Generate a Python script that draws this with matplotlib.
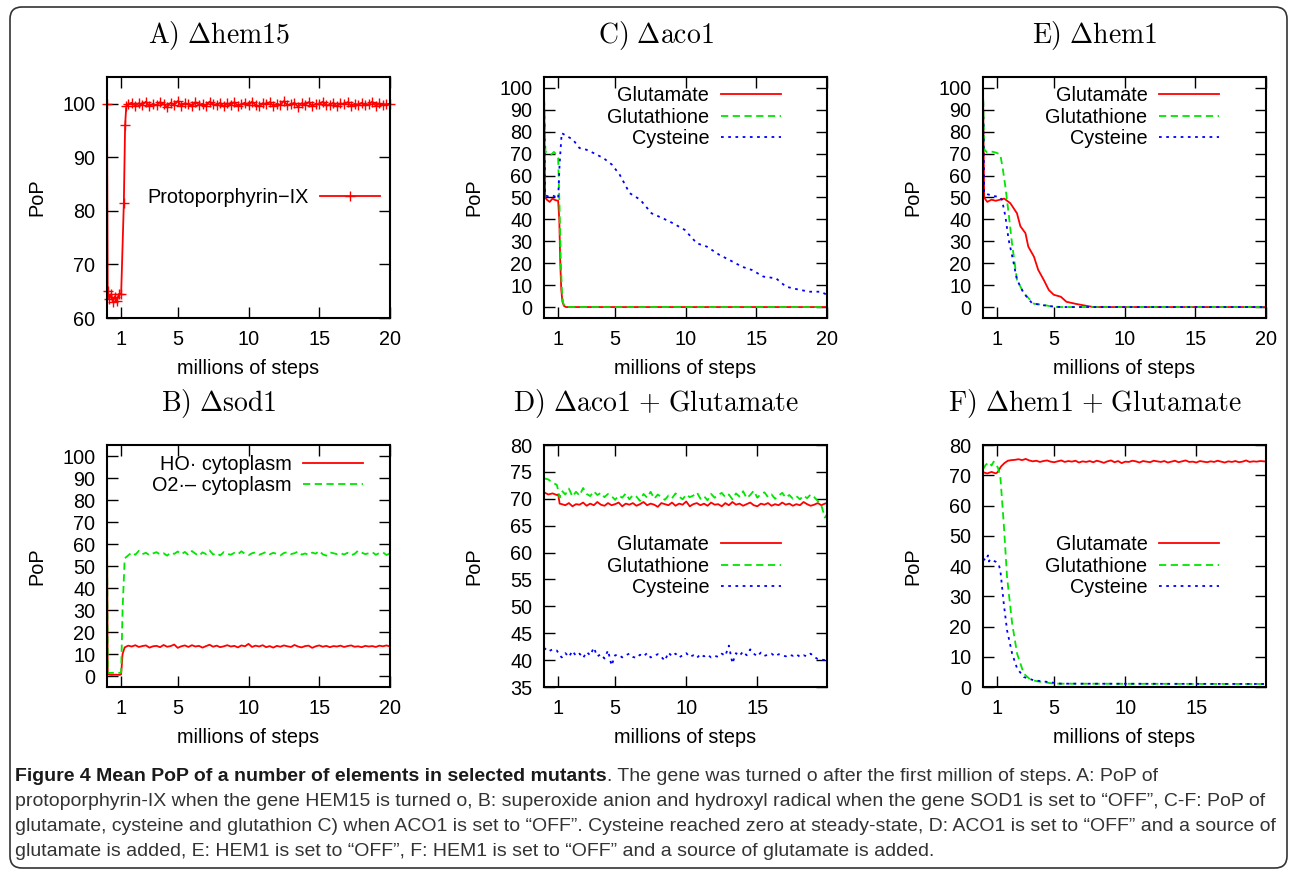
import numpy as np
import matplotlib.pyplot as plt
from matplotlib.patches import FancyBboxPatch
from matplotlib.transforms import IdentityTransform

plt.rcParams['font.family'] = ['Liberation Sans', 'DejaVu Sans']
plt.rcParams['mathtext.fontset'] = 'cm'

# steady-state sampling (millions of steps), shared by the noisy series
tail_x = np.arange(1.5, 20.001, 0.25)

# A) hem15 - Protoporphyrin-IX
a_head_x = [0, 0.05, 0.15, 0.3, 0.4, 0.55, 0.7, 0.85, 1.0, 1.19, 1.28, 1.36]
a_head_y = [100, 65, 63.5, 64.5, 63, 64, 63.2, 64.5, 64.5, 81.5, 96, 99.5]
a_tail = [99.9, 100.2, 99.6, 100.1, 99.8, 100.4, 99.5, 100.0, 99.7, 100.3, 99.9, 99.4, 100.2, 99.8, 100.5,
          99.6, 100.1, 99.9, 99.5, 100.3, 99.8, 100.0, 99.6, 100.4, 99.9, 99.7, 100.2, 99.5, 100.1, 99.8,
          100.3, 99.6, 99.9, 100.2, 99.7, 100.4, 99.8, 99.5, 100.1, 99.9, 100.3, 99.6, 100.0, 99.8, 100.5,
          99.7, 99.9, 100.2, 99.4, 100.1, 99.8, 100.3, 99.6, 100.0, 99.9, 100.4, 99.7, 99.8, 100.2, 99.5,
          100.1, 99.9, 100.3, 99.6, 100.0, 99.8, 100.2, 99.7, 99.9, 100.4, 99.6, 100.1, 99.8, 99.9, 100.0]

# B) sod1
b_head_x = [0, 0.05, 0.3, 0.6, 0.9, 1.0, 1.1, 1.25]
b_ho_head = [68, 0.8, 0.5, 0.6, 0.5, 0.8, 10, 13]
b_ho_tail = [13.8, 13.4, 14.0, 13.2, 13.6, 13.9, 12.9, 13.5, 13.7, 13.1, 14.1, 13.3, 13.6, 14.3, 12.8,
             13.5, 13.9, 13.2, 14.0, 13.4, 13.7, 12.9, 13.6, 14.2, 13.3, 13.8, 13.1, 13.5, 14.0, 13.4,
             13.7, 13.0, 13.9, 13.5, 14.6, 13.2, 13.8, 13.4, 14.0, 13.1, 13.6, 12.9, 13.7, 13.3, 13.9,
             13.5, 13.2, 14.1, 13.4, 13.0, 13.6, 13.8, 12.8, 13.5, 13.9, 13.3, 13.7, 13.1, 13.6, 13.4,
             13.8, 13.2, 13.6, 13.9, 13.3, 13.5, 13.1, 13.7, 13.4, 13.6, 13.2, 13.8, 13.5, 13.9, 13.4]
b_o2_head = [66, 1.5, 1.4, 1.5, 1.4, 1.6, 30, 53.5]
b_o2_tail = [54.8, 56.2, 55.1, 56.9, 55.4, 56.0, 54.9, 55.7, 56.3, 55.2, 55.8, 54.7, 56.1, 55.5, 56.6,
             55.3, 56.4, 55.0, 56.8, 55.6, 54.6, 56.2, 55.4, 57.1, 55.2, 55.9, 54.8, 56.3, 55.6, 55.1,
             56.0, 55.3, 56.7, 55.5, 54.9, 55.8, 56.2, 55.1, 55.7, 56.4, 55.3, 56.0, 55.5, 54.8, 55.9,
             56.3, 55.4, 55.8, 56.6, 55.2, 55.7, 55.0, 56.1, 55.6, 56.9, 55.3, 54.7, 56.2, 55.8, 55.4,
             55.9, 55.2, 56.0, 54.9, 55.5, 57.0, 56.1, 55.4, 55.8, 56.3, 55.1, 55.9, 56.2, 55.0, 55.7]

# C) aco1
c_glu_x = [0, 0.08, 0.2, 0.4, 0.6, 0.8, 1.0, 1.08, 1.15, 1.22, 1.3, 1.4, 1.55, 20]
c_glu_y = [100, 50, 49, 48, 49.5, 48.8, 48.5, 40, 20, 8, 2.5, 0.6, 0, 0]
c_gsh_x = [0, 0.05, 0.1, 0.3, 0.5, 0.7, 0.9, 1.0, 1.1, 1.18, 1.26, 1.35, 1.45, 1.6, 20]
c_gsh_y = [95, 85, 71, 70, 69.5, 70.8, 69.5, 68, 45, 22, 8, 2, 0.5, 0, 0]
c_cys_x = [0, 0.08, 0.3, 0.6, 0.9, 1.0, 1.1, 1.25, 2.05, 2.5, 3.0, 3.5, 4.2, 4.8, 5.35, 6.05, 6.8,
           7.6, 8.4, 9.1, 9.95, 10.8, 11.5, 12.4, 13.1, 14.0, 14.7, 15.5, 16.4, 17.1, 18.1, 18.8, 19.6, 20]
c_cys_y = [100, 51, 50.5, 51, 50, 49.5, 65, 79.4, 76.4, 72.6, 71.8, 70.3, 68, 65, 60.4, 52, 49,
           42.8, 40.5, 38.3, 35.2, 29.1, 27.6, 23.8, 21.5, 18.4, 16.9, 13.9, 13.1, 9.3, 7.8, 7.0, 7.0, 5.5]

# D) aco1 + Glutamate
d_head_x = [0, 0.3, 0.6, 0.9, 1.0, 1.1, 1.25]
d_glu_head = [71.2, 70.8, 71.0, 70.7, 70.8, 69.1, 69.0]
d_glu_tail = [68.8, 69.2, 68.6, 69.0, 68.9, 69.3, 68.7, 69.1, 68.8, 69.4, 68.9, 68.7, 69.2, 68.8, 69.0,
              69.3, 68.6, 69.1, 68.9, 69.2, 68.7, 69.0, 69.4, 68.8, 69.1, 68.9, 68.5, 69.2, 69.0, 68.8,
              69.3, 68.7, 69.1, 68.9, 69.5, 68.6, 69.0, 69.2, 68.8, 69.1, 68.7, 69.3, 68.9, 69.0, 68.6,
              69.2, 68.8, 69.4, 68.9, 69.1, 68.7, 69.0, 69.3, 68.8, 68.6, 69.1, 68.9, 69.2, 68.7, 69.0,
              68.8, 69.3, 68.9, 69.1, 68.7, 69.0, 68.8, 69.4, 69.0, 68.7, 68.9, 69.2, 68.8, 69.1, 69.3]
d_gsh_head = [73.8, 73.6, 73.0, 72.6, 71.5, 70.2, 71.5]
d_gsh_tail = [70.8, 71.9, 70.4, 71.3, 70.6, 72.0, 70.9, 70.5, 71.4, 70.7, 71.1, 70.3, 70.9, 70.5, 69.8,
              70.6, 70.2, 71.0, 69.9, 70.7, 70.4, 69.6, 70.9, 70.2, 71.3, 70.0, 70.8, 70.3, 69.8, 70.6,
              70.1, 71.0, 70.4, 69.9, 70.8, 70.3, 70.6, 71.2, 70.0, 70.5, 69.7, 70.9, 70.2, 70.7, 71.1,
              70.3, 70.8, 69.9, 71.0, 70.4, 71.4, 70.1, 70.7, 71.5, 70.2, 70.9, 71.2, 70.3, 70.8, 70.0,
              70.6, 71.1, 70.2, 70.7, 70.0, 70.5, 69.9, 70.6, 70.1, 70.8, 70.3, 69.6, 68.8, 66.5, 67.5]
d_cys_head_x = [0, 0.3, 0.6, 0.9, 1.1, 1.25]
d_cys_head = [42.3, 41.6, 42.0, 41.8, 40.9, 40.5]
d_cys_tail = [41.3, 40.6, 41.7, 40.8, 41.2, 40.4, 41.5, 40.9, 42.3, 40.7, 41.1, 40.3, 41.8, 39.0, 40.9,
              41.0, 40.5, 40.9, 41.2, 40.6, 40.4, 41.0, 40.7, 41.3, 40.5, 40.8, 41.1, 40.6, 39.9, 41.4,
              40.7, 41.2, 40.5, 40.9, 41.3, 40.6, 40.9, 40.4, 41.1, 40.7, 41.0, 40.5, 40.8, 40.6, 41.2,
              40.8, 42.7, 39.4, 41.3, 40.8, 41.6, 40.9, 42.0, 41.2, 40.7, 41.4, 40.8, 41.0, 41.2, 40.7,
              41.1, 40.9, 40.7, 41.0, 40.8, 41.1, 40.6, 40.9, 40.7, 41.2, 40.6, 40.2, 40.1, 40.0, 40.0]

# E) hem1
e_glu_x = [0, 0.08, 0.3, 0.6, 0.9, 1.2, 1.5, 1.93, 2.4, 2.64, 3.0, 3.2, 3.6, 3.9, 4.3, 4.65, 5.0, 5.5,
           5.9, 6.6, 7.35, 7.8, 20]
e_glu_y = [100, 50, 48, 49, 48.5, 49, 49.5, 47.4, 42.8, 36.9, 33.7, 27.6, 23, 17, 12.3, 7.8, 5.6, 4.7,
           2.4, 1.4, 0.5, 0, 0]
e_gsh_x = [0, 0.08, 0.3, 0.6, 0.9, 1.22, 1.4, 1.58, 1.81, 2.05, 2.4, 2.87, 3.35, 3.6, 4.3, 5.0, 20]
e_gsh_y = [100, 72, 70.5, 71, 70.5, 69.7, 63, 55, 42.8, 29, 12.5, 6.4, 3.2, 1.5, 1.0, 0, 0]
e_cys_x = [0, 0.08, 0.3, 0.6, 0.9, 1.1, 1.34, 1.58, 1.81, 2.12, 2.4, 2.87, 3.46, 4.05, 4.9, 5.5, 20]
e_cys_y = [100, 52, 51.5, 51, 50.5, 50.5, 49, 41.5, 30.8, 21.5, 12.5, 6.4, 1.8, 1.0, 0.3, 0, 0]

# F) hem1 + Glutamate
f_glu_head_x = [0, 0.3, 0.6, 0.9, 1.0, 1.1, 1.25]
f_glu_head = [71, 70.6, 71.1, 70.6, 70.9, 71.5, 72.8]
f_glu_tail = [74.0, 74.8, 75.0, 75.1, 75.3, 75.0, 75.4, 74.9, 74.6, 74.8, 74.4, 74.7, 74.9, 74.5, 74.3,
              74.6, 74.9, 74.4, 74.7, 74.5, 74.8, 74.2, 74.6, 74.4, 74.7, 74.3, 74.8, 74.5, 74.1, 74.6,
              74.9, 74.3, 74.7, 74.0, 74.5, 74.4, 74.8, 74.6, 74.2, 74.7, 74.5, 74.3, 74.8, 74.6, 74.4,
              74.7, 74.2, 74.5, 74.8, 74.3, 74.6, 74.9, 74.4, 74.5, 74.2, 74.7, 74.5, 74.3, 74.6, 74.4,
              74.8, 74.5, 74.2, 74.6, 74.4, 74.7, 74.3, 74.5, 74.9, 74.4, 74.6, 74.5, 74.7, 74.6, 74.5]
f_gsh_x = [0, 0.2, 0.45, 0.6, 0.75, 0.9, 1.05, 1.22, 1.46, 1.69, 2.05, 2.4, 2.87, 3.34, 3.8, 5.0, 20]
f_gsh_y = [72, 73.5, 74.3, 73.2, 74.5, 73.6, 72.5, 69.5, 54, 36.4, 21, 11, 4.4, 2.4, 1.9, 1.1, 1.0]
f_cys_x = [0, 0.2, 0.35, 0.42, 0.5, 0.7, 0.9, 1.1, 1.22, 1.46, 1.69, 2.05, 2.4, 2.87, 3.58, 4.5, 5.46, 20]
f_cys_y = [42.5, 41.8, 43.5, 41.5, 42.2, 41.8, 41.4, 40.5, 38.6, 27.6, 18.8, 11, 6.1, 3.3, 2.2, 1.7, 1.1, 1.0]

titles = [r'$\mathrm{A)\ \Delta hem15}$', r'$\mathrm{B)\ \Delta sod1}$',
          r'$\mathrm{C)\ \Delta aco1}$', r'$\mathrm{D)\ \Delta aco1\ {+}\ Glutamate}$',
          r'$\mathrm{E)\ \Delta hem1}$', r'$\mathrm{F)\ \Delta hem1\ {+}\ Glutamate}$']

W, H = 1290, 871
RED, GREEN, BLUE = '#ff0000', '#00e600', '#0000ff'
DASH = (0, (4, 2.5))
DOT = (0, (1.5, 2.5))
FS = 14.3

fig = plt.figure(figsize=(W / 100, H / 100), dpi=100)


def panel(left, top, h, title):
    ax = fig.add_axes([left / W, 1 - (top + h) / H, 283 / W, h / H])
    fig.text((left + 141 - 29) / W, 1 - (top - 42) / H, title, fontsize=20, ha='center', va='center')
    return ax


def style(ax, ylim, yticks, xticks, xmax=20):
    ax.set_xlim(0, xmax)
    ax.set_ylim(*ylim)
    ax.set_xticks(xticks)
    ax.set_yticks(yticks)
    ax.tick_params(direction='in', length=8, width=1, top=True, right=True, labelsize=FS, pad=8.5)
    for s in ax.spines.values():
        s.set_linewidth(1.5)
    ax.set_xlabel('millions of steps', fontsize=FS)
    ax.xaxis.set_label_coords(0.5, -0.17)
    ax.set_ylabel('PoP', fontsize=FS)
    ax.yaxis.set_label_coords(-0.215, 0.5)


def legend(ax, x, y):
    ax.legend(loc='center right', bbox_to_anchor=(x, y), frameon=False, markerfirst=False, fontsize=FS,
              handlelength=3, handletextpad=0.6, labelspacing=0.12, borderpad=0, borderaxespad=0)


lw = 1.3
xt = [1, 5, 10, 15, 20]

# A
ax = panel(107, 77, 241, titles[0])
ax.plot(a_head_x + list(tail_x), a_head_y + a_tail, color=RED, lw=lw, marker='+', ms=7, mew=1,
        clip_on=False, label='Protoporphyrin\u2212IX')
style(ax, (60, 105), [60, 70, 80, 90, 100], xt)
legend(ax, 0.964, 0.50)

# B
ax = panel(107, 445, 242, titles[1])
ax.plot(b_head_x + list(tail_x), b_ho_head + b_ho_tail, color=RED, lw=lw, label='HO\u00b7 cytoplasm')
ax.plot(b_head_x + list(tail_x), b_o2_head + b_o2_tail, color=GREEN, lw=lw, ls=DASH,
        label='O2\u00b7\u2013 cytoplasm')
style(ax, (-5, 105), range(0, 101, 10), xt)
legend(ax, 0.904, 0.876)

# C
ax = panel(544, 77, 241, titles[2])
ax.plot(c_glu_x, c_glu_y, color=RED, lw=lw, label='Glutamate')
ax.plot(c_gsh_x, c_gsh_y, color=GREEN, lw=lw, ls=DASH, label='Glutathione')
ax.plot(c_cys_x, c_cys_y, color=BLUE, lw=lw, ls=DOT, label='Cysteine')
style(ax, (-5, 105), range(0, 101, 10), xt)
legend(ax, 0.837, 0.834)

# D
ax = panel(544, 445, 242, titles[3])
ax.plot(d_head_x + list(tail_x), d_glu_head + d_glu_tail, color=RED, lw=lw, label='Glutamate')
ax.plot(d_head_x + list(tail_x), d_gsh_head + d_gsh_tail, color=GREEN, lw=lw, ls=DASH, label='Glutathione')
ax.plot(d_cys_head_x + list(tail_x), d_cys_head + d_cys_tail, color=BLUE, lw=lw, ls=DOT, label='Cysteine')
style(ax, (35, 80), range(35, 81, 5), xt[:4], xmax=19.9)
legend(ax, 0.837, 0.50)

# E
ax = panel(983, 77, 241, titles[4])
ax.plot(e_glu_x, e_glu_y, color=RED, lw=lw, label='Glutamate')
ax.plot(e_gsh_x, e_gsh_y, color=GREEN, lw=lw, ls=DASH, label='Glutathione')
ax.plot(e_cys_x, e_cys_y, color=BLUE, lw=lw, ls=DOT, label='Cysteine')
style(ax, (-5, 105), range(0, 101, 10), xt)
legend(ax, 0.834, 0.834)

# F
ax = panel(983, 445, 242, titles[5])
ax.plot(f_glu_head_x + list(tail_x), f_glu_head + f_glu_tail, color=RED, lw=lw, label='Glutamate')
ax.plot(f_gsh_x, f_gsh_y, color=GREEN, lw=lw, ls=DASH, label='Glutathione')
ax.plot(f_cys_x, f_cys_y, color=BLUE, lw=lw, ls=DOT, label='Cysteine')
style(ax, (0, 80), range(0, 81, 10), xt[:4], xmax=19.9)
legend(ax, 0.834, 0.50)

# caption
cap_bold = 'Figure 4 Mean PoP of a number of elements in selected mutants'
cap_lines = ['. The gene was turned o after the first million of steps. A: PoP of',
             'protoporphyrin-IX when the gene HEM15 is turned o, B: superoxide anion and hydroxyl radical '
             'when the gene SOD1 is set to \u201cOFF\u201d, C-F: PoP of',
             'glutamate, cysteine and glutathion C) when ACO1 is set to \u201cOFF\u201d. Cysteine reached zero '
             'at steady-state, D: ACO1 is set to \u201cOFF\u201d and a source of',
             'glutamate is added, E: HEM1 is set to \u201cOFF\u201d, F: HEM1 is set to \u201cOFF\u201d and a '
             'source of glutamate is added.']
cap_y = [776, 801, 826, 851]
renderer = fig.canvas.get_renderer()

t = fig.text(15 / W, 1 - cap_y[0] / H, cap_bold, fontsize=14, fontweight='bold', va='center',
             color='#1a1a1a')
bb = t.get_window_extent(renderer)
fig.text(bb.x1 / W, 1 - cap_y[0] / H, cap_lines[0], fontsize=14, va='center', color='#333333')
for line, y in zip(cap_lines[1:], cap_y[1:]):
    fig.text(15 / W, 1 - y / H, line, fontsize=14, va='center', color='#333333')

frame = FancyBboxPatch((10, 3), 1277, 861, boxstyle='round,pad=0,rounding_size=12',
                       transform=IdentityTransform(), fill=False, edgecolor='#333333', lw=1.2)
fig.patches.append(frame)

fig.savefig('out.png', dpi=100)
